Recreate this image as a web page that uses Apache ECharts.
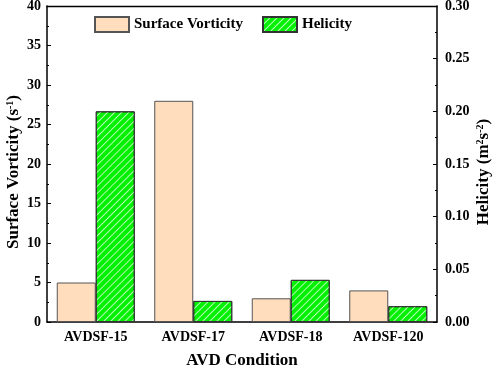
<!DOCTYPE html>
<html>
<head>
<meta charset="utf-8">
<script src="https://cdn.jsdelivr.net/npm/echarts@6/dist/echarts.min.js"></script>
<style>
  html, body { margin: 0; padding: 0; background: #fff; }
  #chart { width: 498px; height: 368px; }
</style>
</head>
<body>
<div id="chart"></div>
<script>
const categories = ['AVDSF-15', 'AVDSF-17', 'AVDSF-18', 'AVDSF-120'];
const vorticity = [5, 28, 3, 4];
const helicity = [0.2, 0.02, 0.04, 0.015];

const font = 'Liberation Serif';
const supRich = {
  sup: { fontSize: 10, fontWeight: 'bold', fontFamily: font, verticalAlign: 'top', padding: [0, 0, 7, 0] }
};

const chart = echarts.init(document.getElementById('chart'));
chart.setOption({
  animation: false,
  textStyle: { fontFamily: font },
  grid: { left: 47, right: 61, top: 6, bottom: 46, outerBoundsMode: 'none', containLabel: false },
  legend: {
    left: 94,
    top: 16,
    padding: 0,
    icon: 'rect',
    itemWidth: 34,
    itemHeight: 15,
    itemGap: 19,
    textStyle: { fontFamily: font, fontWeight: 'bold', fontSize: 15, color: '#000' }
  },
  xAxis: {
    type: 'category',
    data: categories,
    name: 'AVD Condition',
    nameLocation: 'middle',
    nameGap: 30,
    nameMoveOverlap: false,
    nameTextStyle: { fontFamily: font, fontWeight: 'bold', fontSize: 17, color: '#000' },
    axisLine: { lineStyle: { color: '#000', width: 1.5 } },
    axisTick: { show: false },
    axisLabel: { fontFamily: font, fontWeight: 'bold', fontSize: 14, color: '#000', margin: 8 }
  },
  yAxis: [
    {
      type: 'value',
      min: 0, max: 40, interval: 5,
      name: 'Surface Vorticity (s{sup|-1})',
      nameLocation: 'middle',
      nameGap: 25,
      nameMoveOverlap: false,
      nameTextStyle: {
        fontFamily: font, fontWeight: 'bold', fontSize: 17, color: '#000', rich: supRich,
        padding: [0, 16, 0, 0]
      },
      axisLine: { show: true, lineStyle: { color: '#000', width: 1.5 } },
      axisTick: { show: true, inside: true, length: 4, lineStyle: { color: '#000' } },
      minorTick: { show: true, splitNumber: 2, length: 2, lineStyle: { color: '#000' } },
      splitLine: { show: false },
      axisLabel: { fontFamily: font, fontWeight: 'bold', fontSize: 14, color: '#000', margin: 6 }
    },
    {
      type: 'value',
      min: 0, max: 0.3, interval: 0.05,
      name: 'Helicity (m{sup|2}s{sup|-2})',
      nameLocation: 'middle',
      nameGap: 38,
      nameMoveOverlap: false,
      nameTextStyle: {
        fontFamily: font, fontWeight: 'bold', fontSize: 17, color: '#000', rich: supRich,
        padding: [0, 16, 0, 0]
      },
      axisLine: { show: true, lineStyle: { color: '#000', width: 1.5 } },
      axisTick: { show: true, inside: true, length: 4, lineStyle: { color: '#000' } },
      minorTick: { show: true, splitNumber: 2, length: 2, lineStyle: { color: '#000' } },
      splitLine: { show: false },
      axisLabel: {
        fontFamily: font, fontWeight: 'bold', fontSize: 14, color: '#000', margin: 8,
        formatter: v => v.toFixed(2)
      }
    }
  ],
  series: [
    {
      name: 'Surface Vorticity',
      type: 'bar',
      yAxisIndex: 0,
      data: vorticity,
      barGap: 0,
      barCategoryGap: '20%',
      itemStyle: { color: '#FFDDBD', borderColor: '#555', borderWidth: 1 }
    },
    {
      name: 'Helicity',
      type: 'bar',
      yAxisIndex: 1,
      data: helicity,
      barGap: 0,
      barCategoryGap: '20%',
      itemStyle: {
        color: '#00F000',
        borderColor: '#333',
        borderWidth: 1,
        decal: {
          symbol: 'rect',
          color: 'rgba(255,255,255,0.7)',
          dashArrayX: [1, 0],
          dashArrayY: [1, 4],
          rotation: -Math.PI / 4
        }
      }
    }
  ],
  graphic: [
    {
      type: 'line',
      shape: { x1: 46.5, y1: 6.5, x2: 437.5, y2: 6.5 },
      style: { stroke: '#000', lineWidth: 1.5 }
    }
  ]
});
</script>
</body>
</html>
